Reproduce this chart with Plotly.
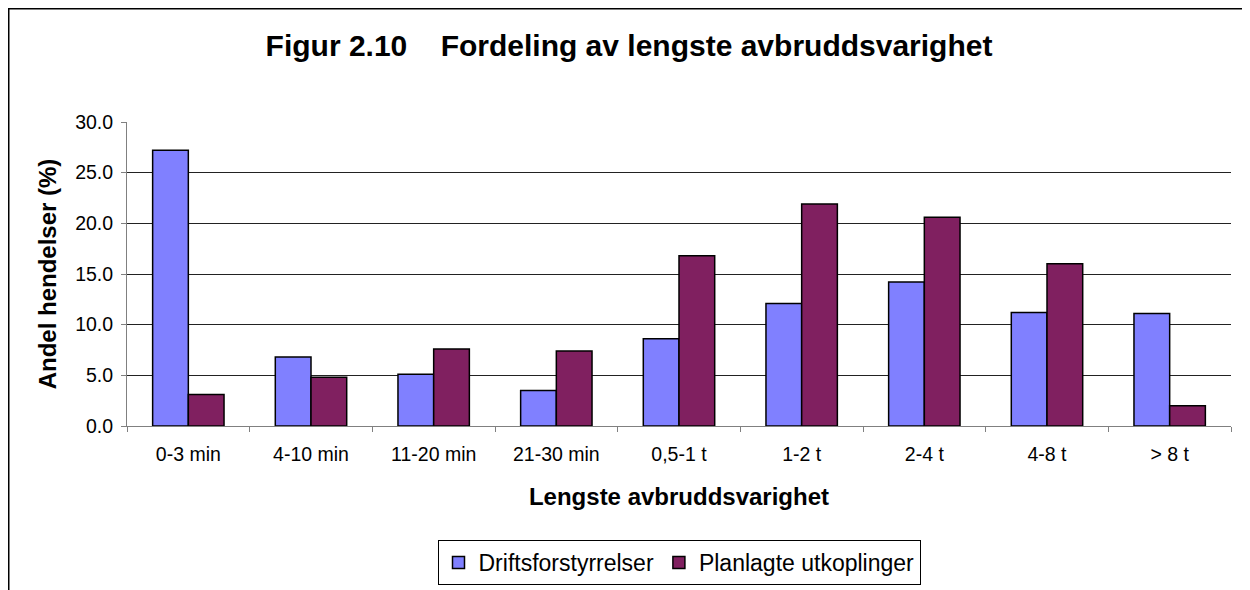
import plotly.graph_objects as go

categories = ["0-3 min", "4-10 min", "11-20 min", "21-30 min", "0,5-1 t", "1-2 t", "2-4 t", "4-8 t", "> 8 t"]
drifts = [27.2, 6.8, 5.1, 3.5, 8.6, 12.1, 14.2, 11.2, 11.1]
planlagte = [3.1, 4.8, 7.6, 7.4, 16.8, 21.9, 20.6, 16.0, 2.0]
y_ticks = [0, 5, 10, 15, 20, 25, 30]
y_tick_labels = ["0.0", "5.0", "10.0", "15.0", "20.0", "25.0", "30.0"]

FONT = "Arial, Liberation Sans, sans-serif"

fig = go.Figure()
fig.add_trace(go.Bar(
    x=categories, y=drifts, name="Driftsforstyrrelser",
    marker=dict(color="#8080FF", line=dict(color="black", width=1.5)),
))
fig.add_trace(go.Bar(
    x=categories, y=planlagte, name="Planlagte utkoplinger",
    marker=dict(color="#802060", line=dict(color="black", width=1.5)),
))

# page body has an 8px margin; figure coordinates = screen - 8
OFF = 8
W, H = 1250 - OFF, 590 - OFF
L, T = 127 - OFF, 122 - OFF
plot_right = 1231 - OFF
plot_bottom = 426 - OFF
R, B = W - plot_right, H - plot_bottom
pw, ph = W - L - R, H - T - B

def px_to_paper_x(sx):
    return (sx - OFF - L) / pw

def px_to_paper_y(sy):
    return (plot_bottom - (sy - OFF)) / ph

fig.update_layout(
    template="none",
    width=W, height=H,
    margin=dict(l=L, r=R, t=T, b=B, pad=0),
    paper_bgcolor="white", plot_bgcolor="white",
    font=dict(family=FONT, color="black"),
    barmode="group", bargap=0.418, bargroupgap=0,
    title=dict(
        text="Figur 2.10\u00a0\u00a0\u00a0\u00a0Fordeling av lengste avbruddsvarighet",
        font=dict(size=30, family=FONT, color="black", weight="bold"),
        x=(629 - OFF) / W, xanchor="center", xref="container",
        y=1 - (45 - OFF) / H, yanchor="middle", yref="container",
    ),
    xaxis=dict(
        type="category",
        automargin=False,
        tickson="boundaries",
        ticks="outside", ticklen=5, tickcolor="#808080",
        showline=True, linecolor="#808080", linewidth=1,
        tickfont=dict(size=19.5, family=FONT, color="black"),
        ticklabelstandoff=11,
        title=dict(text="<b>Lengste avbruddsvarighet</b>",
                   font=dict(size=24, family=FONT, color="black"), standoff=23),
        showgrid=False, zeroline=False,
    ),
    yaxis=dict(
        range=[0, 30],
        automargin=False,
        tickvals=y_ticks, ticktext=y_tick_labels,
        ticks="outside", ticklen=5, tickcolor="#808080",
        showline=True, linecolor="#808080", linewidth=1,
        tickfont=dict(size=19.5, family=FONT, color="black"),
        ticklabelstandoff=4,
        showgrid=True, gridcolor="#222222", gridwidth=1,
        zeroline=False,
        title=dict(text="<b>Andel hendelser (%)</b>",
                   font=dict(size=24, family=FONT, color="black"), standoff=11),
    ),
    legend=dict(
        orientation="h",
        xref="paper", x=0.5, xanchor="center",
        yref="container", y=1 - (540 - OFF) / H, yanchor="top",
        bordercolor="black", borderwidth=1,
        font=dict(size=23, family=FONT, color="black"),
        bgcolor="white",
        itemwidth=30,
    ),
    showlegend=True,
)

fig.add_shape(
    type="rect", xref="paper", yref="paper",
    x0=px_to_paper_x(OFF + 0.75), x1=px_to_paper_x(1247),
    y0=px_to_paper_y(700), y1=px_to_paper_y(OFF + 0.75),
    line=dict(color="black", width=1.5), fillcolor="rgba(0,0,0,0)",
    layer="below",
)

fig.write_html("out.html")
